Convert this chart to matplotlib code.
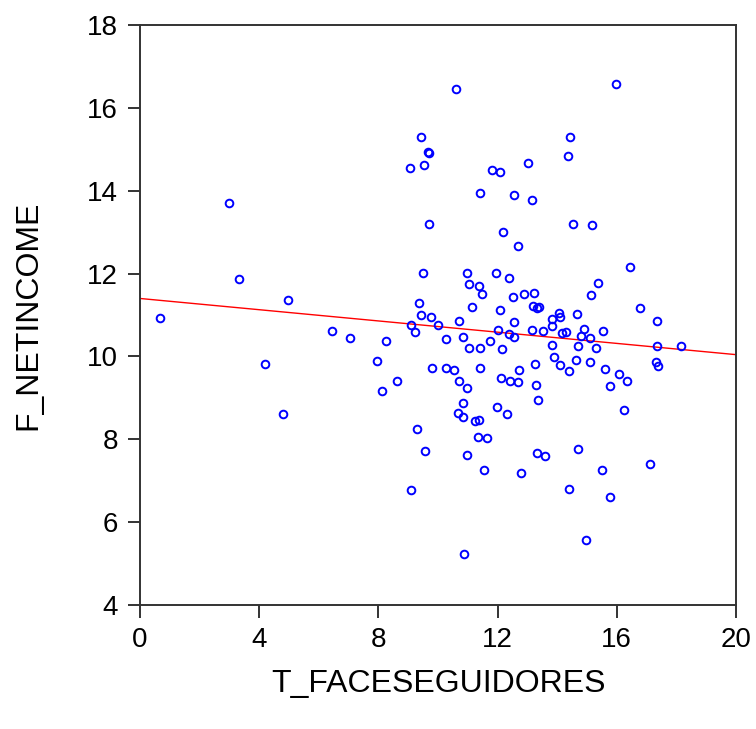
import numpy as np
import matplotlib
matplotlib.use("Agg")
import matplotlib.pyplot as plt

x_face = [0.68, 2.98, 3.31, 4.19, 4.79, 4.98, 6.45, 7.04, 7.96, 8.12, 8.27, 8.64,
          10.60, 9.42, 9.69, 9.65, 9.05, 9.54, 11.81, 12.08, 13.03, 11.40, 12.55, 13.15, 9.71, 12.18, 12.67,
          15.97, 14.43, 14.37, 14.53, 15.18,
          9.49, 10.98, 11.96, 12.39, 11.03, 11.36, 11.49, 12.53, 12.88, 13.21, 13.20, 13.40, 13.31,
          9.36, 9.44, 9.78, 11.13, 12.07, 10.69, 12.55, 9.09, 9.23, 10.01, 12.03, 13.16, 13.51,
          10.27, 10.85, 12.38, 12.56, 11.74, 11.05, 11.41, 12.15, 9.81, 10.27, 10.55, 11.42, 12.73,
          13.26, 10.70, 10.98, 12.11, 12.42, 12.67, 13.29, 13.37,
          16.44, 15.37, 15.13, 16.77, 14.07, 14.09, 13.82, 14.68, 17.34, 13.84, 14.15, 14.28, 14.90,
          15.53, 14.80, 15.10, 13.83, 14.71, 15.30, 17.34, 18.15, 13.89, 14.63, 15.10, 14.09, 14.38,
          15.62, 17.30, 17.37, 16.06, 16.33, 15.76,
          10.84, 10.68, 10.84, 11.24, 11.39, 11.98, 12.33, 9.28, 11.33, 11.63, 9.57, 10.97, 11.53,
          12.79, 13.33, 13.60, 9.10, 10.87,
          16.25, 14.71, 15.51, 17.11, 14.38, 15.78, 14.98]
y_netincome = [10.92, 13.70, 11.87, 9.81, 8.60, 11.36, 10.61, 10.45, 9.90, 9.17, 10.37, 9.40,
               16.46, 15.30, 14.90, 14.93, 14.54, 14.62, 14.50, 14.46, 14.67, 13.94, 13.90, 13.78, 13.20, 13.01, 12.66,
               16.57, 15.30, 14.83, 13.20, 13.17,
               12.02, 12.01, 12.01, 11.89, 11.74, 11.71, 11.50, 11.43, 11.50, 11.54, 11.22, 11.20, 11.16,
               11.28, 11.01, 10.95, 11.20, 11.12, 10.86, 10.82, 10.76, 10.60, 10.76, 10.64, 10.64, 10.61,
               10.43, 10.48, 10.53, 10.48, 10.37, 10.21, 10.21, 10.17, 9.73, 9.71, 9.67, 9.71, 9.67,
               9.82, 9.40, 9.24, 9.48, 9.40, 9.38, 9.32, 8.95,
               12.16, 11.78, 11.48, 11.17, 11.04, 10.96, 10.91, 11.03, 10.85, 10.73, 10.56, 10.59, 10.66,
               10.61, 10.50, 10.44, 10.28, 10.24, 10.21, 10.24, 10.24, 9.99, 9.92, 9.86, 9.79, 9.64,
               9.70, 9.87, 9.78, 9.58, 9.41, 9.29,
               8.87, 8.64, 8.55, 8.44, 8.47, 8.77, 8.62, 8.25, 8.06, 8.03, 7.72, 7.61, 7.26,
               7.18, 7.68, 7.60, 6.77, 5.24,
               8.70, 7.76, 7.26, 7.41, 6.80, 6.61, 5.56]

x_ticks = [0, 4, 8, 12, 16, 20]
y_ticks = [4, 6, 8, 10, 12, 14, 16, 18]

plt.rcParams['font.family'] = ['Liberation Sans', 'DejaVu Sans']

fig = plt.figure(figsize=(7.56, 7.29), dpi=100)
ax = fig.add_axes([140/756, 1-605/729, 596/756, 580/729])

xa = np.array(x_face)
ya = np.array(y_netincome)
slope, intercept = np.polyfit(xa, ya, 1)
xl = np.array([0, 20])
ax.plot(xl, intercept + slope*xl, color='#ff0000', lw=1.0, zorder=2)

ax.plot(xa, ya, linestyle='none', marker='o', markersize=5.5, mfc='none',
        mec='#0000ff', mew=1.4, zorder=3)

ax.set_xlim(0, 20)
ax.set_ylim(4, 18)
ax.set_xticks(x_ticks)
ax.set_yticks(y_ticks)
ax.tick_params(direction='out', length=9, width=1.4, labelsize=20, colors='#333333',
               labelcolor='black', pad=7)
for s in ax.spines.values():
    s.set_linewidth(1.4)
    s.set_color('#333333')
ax.set_xlabel('T_FACESEGUIDORES', fontsize=23, va='center')
ax.set_ylabel('F_NETINCOME', fontsize=23, va='center')
ax.xaxis.set_label_coords(0.5, (605 - 684) / 580)
ax.yaxis.set_label_coords((28 - 140) / 596, 0.5)
fig.savefig('out.png', dpi=100)
